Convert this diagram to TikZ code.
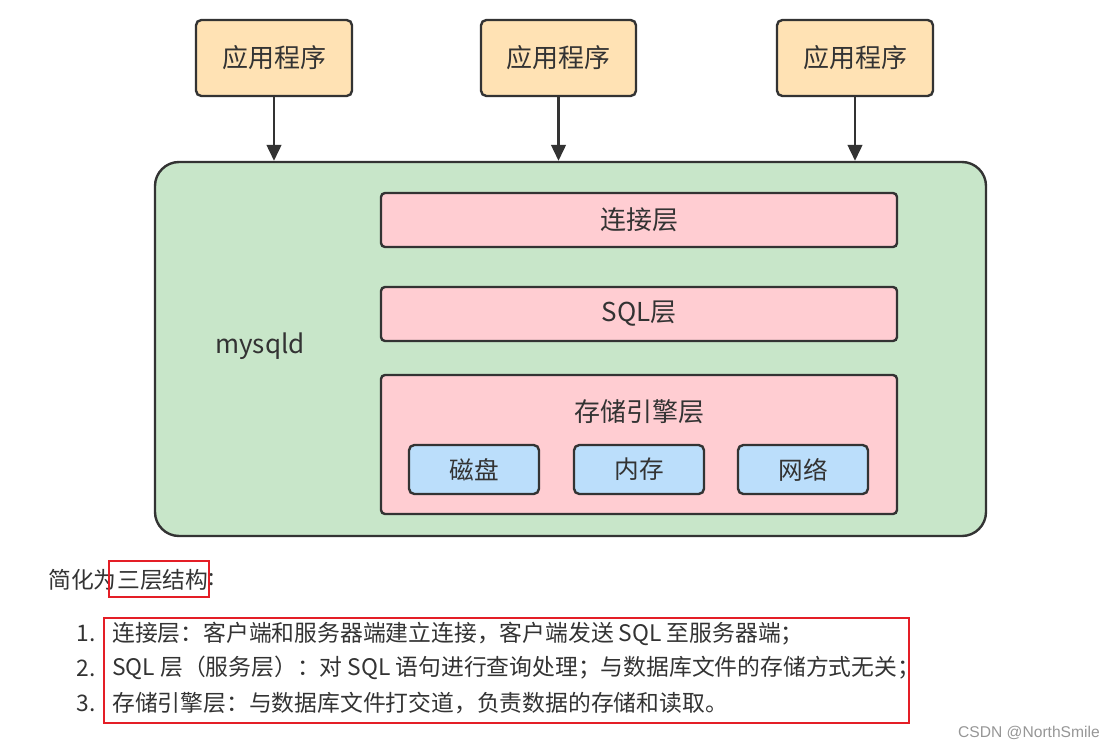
\documentclass[tikz,border=0pt]{standalone}
\usepackage{fontspec}
\newfontfamily\cjk{Noto Sans CJK SC}
\newfontfamily\wm{Liberation Sans}
\usetikzlibrary{arrows.meta}
\definecolor{txt}{RGB}{51,51,51}
\definecolor{edge}{RGB}{51,51,51}
\definecolor{appfill}{RGB}{255,226,180}
\definecolor{grnfill}{RGB}{200,230,201}
\definecolor{pinkfill}{RGB}{255,205,210}
\definecolor{bluefill}{RGB}{187,222,251}
\definecolor{redline}{RGB}{228,30,38}
\definecolor{wmgray}{RGB}{150,150,150}
\tikzset{
  base/.style={draw=edge, line width=1.8pt, rounded corners=4pt, text=txt, font=\cjk\fontsize{19.5}{22}\selectfont, inner sep=0pt},
  appbox/.style={base, fill=appfill, minimum width=156*0.75pt, minimum height=76*0.75pt},
  outerbox/.style={base, fill=grnfill, rounded corners=18pt, minimum width=831*0.75pt, minimum height=374*0.75pt},
  layerbox/.style={base, fill=pinkfill, rounded corners=3pt, minimum width=516*0.75pt},
  subbox/.style={base, fill=bluefill, minimum width=130*0.75pt, minimum height=49*0.75pt, font=\cjk\fontsize{18.5}{21}\selectfont},
  arr/.style={draw=edge, line width=1.8pt, -{Triangle[width=11pt,length=12pt]}},
  plain/.style={text=txt, inner sep=0pt, font=\cjk\fontsize{17.1}{20}\selectfont},
  redbox/.style={draw=redline, line width=1.4pt}
}
\begin{document}
\begin{tikzpicture}[x=0.75pt,y=-0.75pt]
\useasboundingbox (0,0) rectangle (1110,749);
% applications
\node[appbox] (app1) at (274,58) {应用程序};
\node[appbox, minimum width=155*0.75pt] (app2) at (558.5,58) {应用程序};
\node[appbox] (app3) at (855,58) {应用程序};
% mysqld container
\node[outerbox] (mysqld) at (570.5,349) {};
\node[text=txt, inner sep=0pt, font=\cjk\fontsize{19.5}{22}\selectfont] (mlabel) at (260,346) {mysqld};
% layers
\node[layerbox, minimum height=54*0.75pt] (conn) at (639,220) {连接层};
\node[layerbox, minimum height=54*0.75pt] (sql) at (639,314) {SQL层};
\node[layerbox, minimum height=139*0.75pt] (store) at (639,444.5) {};
\node[text=txt, inner sep=0pt, font=\cjk\fontsize{19.5}{22}\selectfont] (stitle) at (639,412) {存储引擎层};
\node[subbox] (disk) at (474,469.5) {磁盘};
\node[subbox] (mem) at (639,469.5) {内存};
\node[subbox] (net) at (803,469.5) {网络};
% arrows
\draw[arr] (app1.south) -- (app1.south |- mysqld.north);
\draw[arr] (app2.south) -- (app2.south |- mysqld.north);
\draw[arr] (app3.south) -- (app3.south |- mysqld.north);
% text below
\node[plain, anchor=west] (s1) at (48,580) {简化为};
\node[plain, anchor=west] (s2) at (s1.east) {三层结构};
\node[plain, anchor=west] (s3) at (s2.east) {:};
\draw[redbox] (109,561) rectangle (209,597);
\node[plain, anchor=east] (n1) at (96,634) {1.};
\node[plain, anchor=east] (n2) at (96,668) {2.};
\node[plain, anchor=east] (n3) at (96,703) {3.};
\node[plain, anchor=west] (l1) at (112,634) {连接层：客户端和服务器端建立连接，客户端发送 SQL 至服务器端；};
\node[plain, anchor=west] (l2) at (112,668) {SQL 层（服务层）：对 SQL 语句进行查询处理；与数据库文件的存储方式无关；};
\node[plain, anchor=west] (l3) at (112,703) {存储引擎层：与数据库文件打交道，负责数据的存储和读取。};
\draw[redbox] (104,618) rectangle (909,723);
\node[text=wmgray, inner sep=0pt, font=\wm\fontsize{11.7}{13}\selectfont, anchor=east] (wm) at (1100,733) {CSDN @NorthSmile};
\end{tikzpicture}
\end{document}
